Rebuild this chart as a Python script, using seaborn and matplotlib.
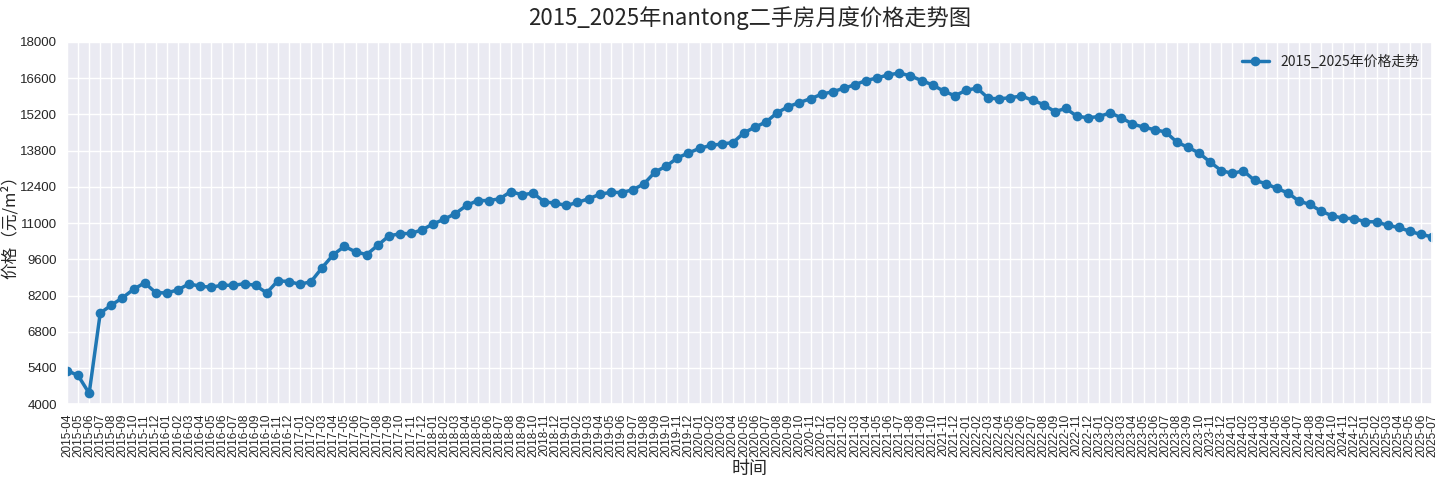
import matplotlib
matplotlib.use("Agg")
import matplotlib.pyplot as plt
import seaborn as sns
import pandas as pd
import numpy as np

months = [f"{y}-{m:02d}" for y in range(2015, 2026) for m in range(1, 13)]
months = [m for m in months if "2015-04" <= m <= "2025-07"]

prices = [
    5300, 5110, 4420, 7520, 7830, 8110, 8440, 8690, 8310,
    8300, 8420, 8650, 8560, 8520, 8600, 8590, 8660, 8590, 8300, 8770, 8740,
    8630, 8740, 9280, 9780, 10100, 9890, 9780, 10140, 10500, 10590, 10600, 10740,
    10970, 11150, 11370, 11680, 11870, 11870, 11940, 12220, 12090, 12160, 11820, 11770,
    11680, 11800, 11940, 12110, 12190, 12180, 12290, 12520, 12980, 13200, 13520, 13710,
    13890, 14000, 14060, 14110, 14490, 14710, 14910, 15270, 15500, 15660, 15810, 15980,
    16080, 16210, 16350, 16510, 16610, 16730, 16800, 16690, 16510, 16340, 16100, 15920,
    16130, 16220, 15830, 15800, 15850, 15910, 15750, 15580, 15310, 15430, 15130, 15070,
    15120, 15260, 15070, 14830, 14710, 14610, 14520, 14130, 13930, 13710, 13360, 13030,
    12920, 13020, 12650, 12530, 12340, 12170, 11850, 11720, 11460, 11280, 11190, 11170,
    11050, 11050, 10910, 10830, 10680, 10560, 10470,
]

series_name = "2015_2025年价格走势"
title = "2015_2025年nantong二手房月度价格走势图"
yticks = list(range(4000, 18001, 1400))

sns.set_theme(style="darkgrid")
plt.rcParams["font.family"] = ["Noto Sans CJK SC", "DejaVu Sans"]
plt.rcParams["axes.unicode_minus"] = False

df = pd.DataFrame({"idx": np.arange(len(months)), "price": prices})

fig, ax = plt.subplots(figsize=(14.4, 4.8), dpi=100)
fig.subplots_adjust(left=0.0465, right=0.9945, top=0.9125, bottom=0.158)

sns.lineplot(data=df, x="idx", y="price", ax=ax, marker="o", markersize=7,
             linewidth=2.5, color="#1f77b4", markeredgewidth=0, label=series_name)

ax.set_xlim(0, len(months) - 1)
ax.set_ylim(4000, 18000)
ax.set_yticks(yticks)
ax.set_yticklabels([str(v) for v in yticks], fontsize=9.5,
                   family=["Liberation Sans", "DejaVu Sans"])
ax.set_xticks(np.arange(len(months)))
ax.set_xticklabels(months, rotation=90, fontsize=8.5, family=["Liberation Sans", "DejaVu Sans"])
ax.tick_params(axis="x", pad=1)
ax.tick_params(axis="y", pad=1.2)
ax.set_title(title, fontsize=16, pad=12)
ax.set_xlabel("时间", fontsize=13, labelpad=2)
ax.set_ylabel("价格（元/m²）", fontsize=12)
ax.yaxis.set_label_coords(-0.0352, 0.5)
ax.legend(loc="upper right", frameon=False, fontsize=10)

fig.savefig("out.png", dpi=100)
